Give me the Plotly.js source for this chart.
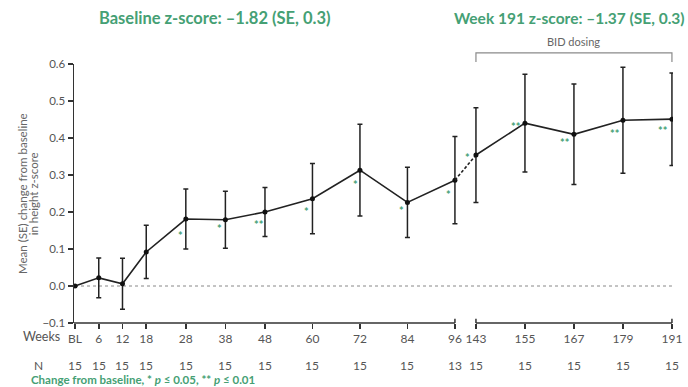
<!DOCTYPE html>
<html>
<head>
<meta charset="utf-8">
<script src="https://cdn.plot.ly/plotly-3.0.1.min.js"></script>
<style>
  html, body { margin: 0; padding: 0; background: #fff; }
  #chart { width: 688px; height: 387px; }
</style>
</head>
<body>
<div id="chart"></div>
<script>
// Study visits (weeks), tick labels and patient counts
const weeks = [0, 6, 12, 18, 28, 38, 48, 60, 72, 84, 96, 143, 155, 167, 179, 191];
const weekLabels = ['BL', '6', '12', '18', '28', '38', '48', '60', '72', '84', '96', '143', '155', '167', '179', '191'];
const nPatients = [15, 15, 15, 15, 15, 15, 15, 15, 15, 15, 13, 15, 15, 15, 15, 15];

// Mean (SE) change from baseline in height z-score
const meanChange = [0, 0.022, 0.006, 0.092, 0.181, 0.179, 0.200, 0.236, 0.313, 0.226, 0.286, 0.354, 0.440, 0.410, 0.448, 0.451];
const seChange = [0, 0.054, 0.069, 0.072, 0.081, 0.077, 0.066, 0.095, 0.124, 0.095, 0.118, 0.128, 0.132, 0.136, 0.143, 0.125];

// Significance versus baseline (* p <= 0.05, ** p <= 0.01)
const significance = ['', '', '', '', '*', '*', '**', '*', '*', '*', '*', '*', '**', '**', '**', '**'];

// Pixel offsets of the significance marks relative to each point
const sigOffsets = [[0,0],[0,0],[0,0],[0,0],[-5,13],[-6,6],[-6,9],[-6,10],[-4,11],[-6,5],[-6,11],[-8,-1],[-9,0],[-9,5],[-8,10],[-9,8]];

const GREEN = '#45a074';
const AXIS = '#333333';
const TEXT = '#555555';
const FONT = 'Lato, "Open Sans", sans-serif';

// Broken x axis: weeks 96 -> 143 are collapsed into a short gap
const BREAK_FROM = 96, BREAK_TO = 143, GAP_POS = 101.31, SCALE2 = 1.0317;
function pos(w) { return w <= BREAK_FROM ? w : GAP_POS + (w - BREAK_TO) * SCALE2; }
const xRange = [-0.253, 151.1];
function paperX(p) { return (p - xRange[0]) / (xRange[1] - xRange[0]); }

const xPos = weeks.map(pos);
const split = weeks.indexOf(BREAK_TO);

const lineStyle = { color: '#222', width: 1.6 };
const markerStyle = { color: '#111', size: 5 };
function errBars(se) {
  return { type: 'data', array: se, visible: true, color: '#222', thickness: 1.5, width: 2.5 };
}

const traces = [
  {
    x: xPos.slice(0, split), y: meanChange.slice(0, split),
    error_y: errBars(seChange.slice(0, split)),
    mode: 'lines+markers', line: lineStyle, marker: markerStyle,
    hoverinfo: 'y', showlegend: false
  },
  {
    x: [xPos[split - 1], xPos[split]], y: [meanChange[split - 1], meanChange[split]],
    mode: 'lines', line: { color: '#222', width: 1.6, dash: '3px,2px' },
    hoverinfo: 'skip', showlegend: false
  },
  {
    x: xPos.slice(split), y: meanChange.slice(split),
    error_y: errBars(seChange.slice(split)),
    mode: 'lines+markers', line: lineStyle, marker: markerStyle,
    hoverinfo: 'y', showlegend: false
  }
];

const annotations = [];
function note(o) {
  annotations.push(Object.assign({ showarrow: false, xanchor: 'center', yanchor: 'middle' }, o));
}

// Headline z-scores
note({
  xref: 'paper', yref: 'paper', x: 0.236, y: 1.178,
  text: '<b>Baseline z-score: \u20131.82 (SE, 0.3)</b>',
  font: { family: FONT, size: 16.5, color: GREEN }
});
note({
  xref: 'paper', yref: 'paper', x: 0.827, y: 1.178,
  text: '<b>Week 191 z-score: \u20131.37 (SE, 0.3)</b>',
  font: { family: FONT, size: 15.5, color: GREEN }
});

// BID dosing bracket label
note({
  xref: 'paper', yref: 'paper', x: (paperX(xPos[split]) + paperX(xPos[xPos.length - 1])) / 2, y: 1.085,
  text: 'BID dosing',
  font: { family: FONT, size: 11, color: '#666' }
});

// Y axis title, two lines
note({
  xref: 'paper', yref: 'paper', x: -0.086, y: 0.5, textangle: -90,
  text: 'Mean (SE) change from baseline',
  font: { family: FONT, size: 11.5, color: '#666' }
});
note({
  xref: 'paper', yref: 'paper', x: -0.067, y: 0.5, textangle: -90,
  text: 'in height z-score',
  font: { family: FONT, size: 11.5, color: '#666' }
});

// Row captions
note({
  xref: 'paper', yref: 'paper', x: -0.055, y: -0.054,
  text: 'Weeks', font: { family: FONT, size: 12.5, color: TEXT }
});
note({
  xref: 'paper', yref: 'paper', x: -0.06, y: -0.166,
  text: 'N', font: { family: FONT, size: 12, color: TEXT }
});

// Patient counts under each visit
weeks.forEach((w, i) => {
  note({
    xref: 'x', yref: 'paper', x: xPos[i], y: -0.166,
    text: String(nPatients[i]), font: { family: FONT, size: 12, color: TEXT }
  });
});

// Significance marks
significance.forEach((s, i) => {
  if (!s) return;
  note({
    xref: 'x', yref: 'y', x: xPos[i], y: meanChange[i],
    text: '<b>' + s + '</b>', xshift: sigOffsets[i][0], yshift: -sigOffsets[i][1] - 3,
    font: { family: FONT, size: 11, color: GREEN }
  });
});

// Footnote
note({
  xref: 'paper', yref: 'paper', x: -0.075, y: -0.217, xanchor: 'left',
  text: '<b>Change from baseline, * <i>p</i> \u2264 0.05, ** <i>p</i> \u2264 0.01</b>',
  font: { family: FONT, size: 11.5, color: GREEN }
});

// Broken x axis line, end caps, zero reference and BID bracket
const x96 = paperX(xPos[split - 1]);
const x143 = paperX(xPos[split]);
const x191 = paperX(xPos[xPos.length - 1]);
const capUp = 0.016;
const shapes = [
  { type: 'line', xref: 'paper', yref: 'paper', x0: 0, x1: x96, y0: 0, y1: 0, line: { color: AXIS, width: 1.5 } },
  { type: 'line', xref: 'paper', yref: 'paper', x0: x143, x1: x191, y0: 0, y1: 0, line: { color: AXIS, width: 1.5 } },
  { type: 'line', xref: 'paper', yref: 'paper', x0: x96, x1: x96, y0: 0, y1: capUp, line: { color: AXIS, width: 1.5 } },
  { type: 'line', xref: 'paper', yref: 'paper', x0: x143, x1: x143, y0: 0, y1: capUp, line: { color: AXIS, width: 1.5 } },
  { type: 'line', xref: 'paper', yref: 'paper', x0: x191, x1: x191, y0: 0, y1: capUp, line: { color: AXIS, width: 1.5 } },
  { type: 'line', xref: 'x', yref: 'y', x0: xPos[0], x1: xPos[xPos.length - 1], y0: 0, y1: 0, layer: 'below',
    line: { color: '#888', width: 1, dash: 'dot' } },
  { type: 'path', xref: 'paper', yref: 'paper',
    path: `M ${x143} 1.008 L ${x143} 1.043 L ${x191} 1.043 L ${x191} 1.008`,
    line: { color: '#8a8a8a', width: 1.2 } }
];

const layout = {
  width: 688, height: 387,
  margin: { l: 74, r: 15, t: 64, b: 64 },
  paper_bgcolor: '#fff', plot_bgcolor: '#fff',
  font: { family: FONT, color: TEXT },
  showlegend: false,
  xaxis: {
    range: xRange, showline: false, zeroline: false, showgrid: false,
    tickmode: 'array', tickvals: xPos, ticktext: weekLabels,
    ticks: 'outside', ticklen: 5, tickwidth: 1.5, tickcolor: AXIS,
    tickfont: { family: FONT, size: 12, color: TEXT }
  },
  yaxis: {
    range: [-0.1, 0.6], dtick: 0.1, tick0: 0, tickformat: '.1f',
    showline: true, linecolor: AXIS, linewidth: 1.5,
    zeroline: false, showgrid: false,
    ticks: 'outside', ticklen: 5, tickwidth: 1.5, tickcolor: AXIS,
    tickfont: { family: FONT, size: 11.5, color: TEXT }
  },
  annotations: annotations,
  shapes: shapes
};

Plotly.newPlot('chart', traces, layout, { displayModeBar: false, staticPlot: true });
</script>
</body>
</html>
